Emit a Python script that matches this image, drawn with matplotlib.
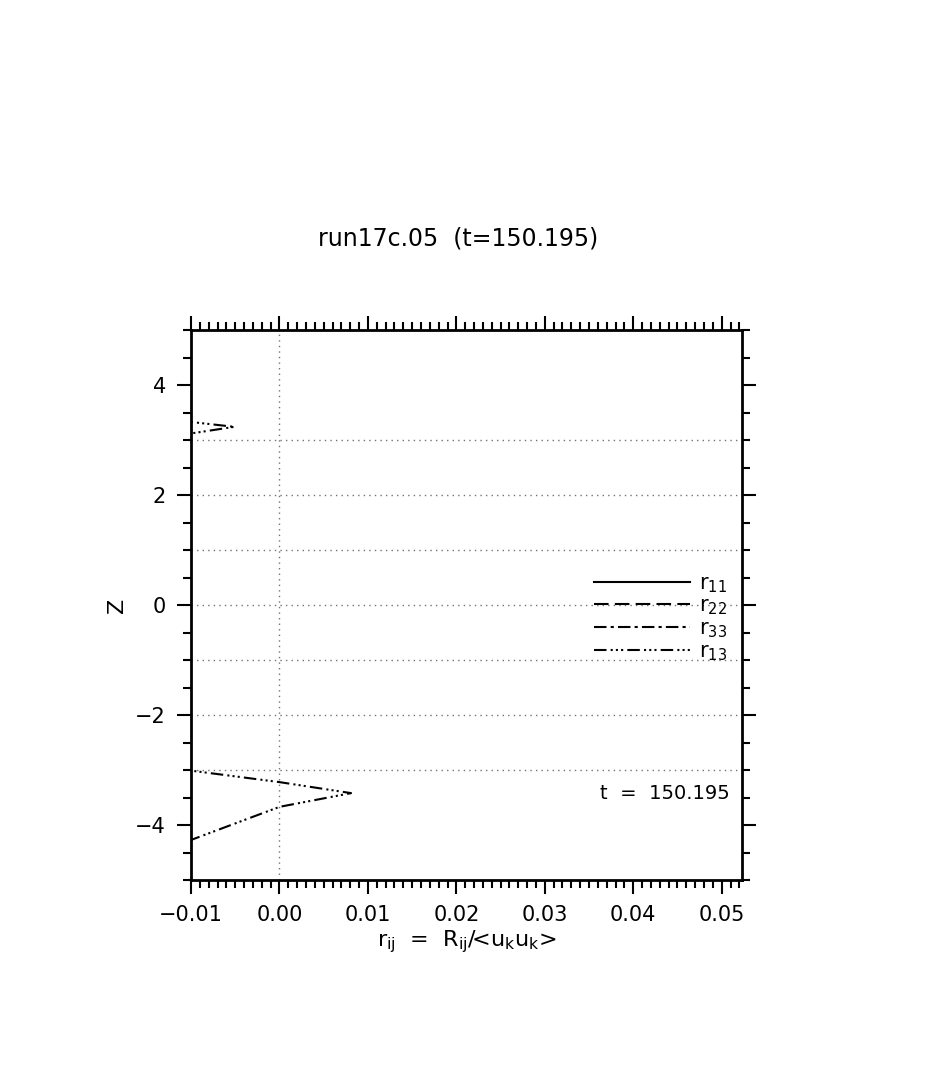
import numpy as np
import matplotlib
matplotlib.use("Agg")
import matplotlib.pyplot as plt
from matplotlib.ticker import MultipleLocator

# r13 profile (the other components are off-scale)
z_top = [3.35, 3.24, 3.10]
r13_top = [-0.0112, -0.0051, -0.0108]
z_bot = [-2.98, -3.22, -3.42, -3.67, -4.32]
r13_bot = [-0.0115, 0.0, 0.0081, 0.0, -0.0108]

names = [r'r$_{11}$', r'r$_{22}$', r'r$_{33}$', r'r$_{13}$']
styles = ['-', (0, (7, 3)), (0, (6, 2, 1.5, 2)), (0, (6, 2, 1, 1.5, 1, 1.5, 1, 2))]
grid_z = [3, 2, 1, 0, -1, -2, -3]

plt.rcParams['font.family'] = ['DejaVu Sans']
plt.rcParams['mathtext.fontset'] = 'dejavusans'

fig = plt.figure(figsize=(9.35, 10.65), dpi=100)
ax = fig.add_axes([0.2043, 0.1737, 0.5893, 0.5164])

for z in grid_z:
    ax.axhline(z, color='0.45', lw=1, ls=(0, (1, 3)), zorder=0)
ax.axvline(0.0, color='0.45', lw=1, ls=(0, (1, 3)), zorder=0)

lines = []
for i, nm in enumerate(names):
    ln, = ax.plot([], [], color='k', lw=1.5, ls=styles[i], label=nm)
    lines.append(ln)
ax.plot(r13_top, z_top, color='k', lw=1.5, ls=styles[3])
ax.plot(r13_bot, z_bot, color='k', lw=1.5, ls=styles[3])

ax.set_xlim(-0.01, 0.0523)
ax.set_ylim(-5, 5)
ax.xaxis.set_major_locator(MultipleLocator(0.01))
ax.xaxis.set_minor_locator(MultipleLocator(0.001))
ax.yaxis.set_major_locator(MultipleLocator(2))
ax.yaxis.set_minor_locator(MultipleLocator(0.5))
ax.xaxis.set_major_formatter(plt.FuncFormatter(lambda v, p: ('%.2f' % v).replace('-', '\u2212')))
ax.yaxis.set_major_formatter(plt.FuncFormatter(lambda v, p: ('%d' % round(v)).replace('-', '\u2212')))
ax.tick_params(which='both', direction='out', top=True, right=True, width=1.5, labelsize=15, pad=8)
ax.tick_params(which='major', length=10)
ax.tick_params(which='minor', length=6)
for s in ax.spines.values():
    s.set_linewidth(2)

ax.set_xlabel(r'r$_{\rm ij}$  =  R$_{\rm ij}$/<u$_{\rm k}$u$_{\rm k}$>', fontsize=16, labelpad=2)
ax.set_ylabel('Z', fontsize=16, labelpad=6)
fig.suptitle('run17c.05  (t=150.195)', x=0.49, y=0.787, fontsize=17)

leg = ax.legend(handles=lines, loc='upper left', bbox_to_anchor=(0.712, 0.577), frameon=False,
                fontsize=15, handlelength=4.6, handletextpad=0.45, labelspacing=0.05, borderpad=0)
ax.text(0.978, 0.158, 't  =  150.195', transform=ax.transAxes, ha='right', va='center', fontsize=14)

fig.savefig('out.png', dpi=100)
